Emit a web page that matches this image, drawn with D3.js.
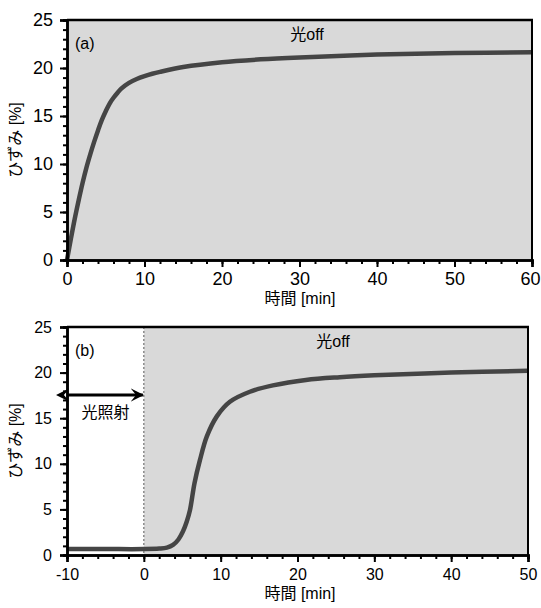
<!DOCTYPE html>
<html><head><meta charset="utf-8">
<script src="https://cdn.jsdelivr.net/npm/d3@7"></script>
<style>body{margin:0;background:#fff}text{font-family:"Liberation Sans",Arial,"Noto Sans CJK JP",sans-serif;fill:#000}</style>
</head><body><svg id="c" width="541" height="608"></svg>
<script>
const timeA = [0,0.5,1,1.5,2,2.5,3,3.5,4,4.5,5,5.5,6,6.5,7,8,9,10,11,12,15,20,25,30,40,50,60];
const strainA = [0,2.2,4.3,6.2,8.0,9.6,11.0,12.3,13.5,14.6,15.5,16.3,16.9,17.4,17.85,18.45,18.85,19.15,19.4,19.6,20.1,20.6,20.9,21.1,21.4,21.55,21.65];
const timeB = [-10,-5,0,2,3,3.8,4.5,5.1,5.6,6.0,6.6,7.3,8.2,9.5,11.2,13.8,16.8,21.1,25.5,30,40,50];
const strainB = [0.65,0.65,0.65,0.7,0.8,1.1,1.7,2.6,3.7,4.9,7.9,10.4,13.0,15.2,16.8,17.9,18.6,19.2,19.5,19.7,20.0,20.2];
const yTicks = [0,5,10,15,20,25];
const xTicksA = [0,10,20,30,40,50,60];
const xTicksB = [-10,0,10,20,30,40,50];
const offLabel = "光off";
const irrLabel = "光照射";
const xTitle = "時間 [min]";
const yTitle = "ひずみ [%]";

const svg = d3.select("#c");
const fmt = d => String(d);
const W = 541;

function panel(o){
  const g = svg.append("g");
  const x = d3.scaleLinear().domain(o.xd).range([67, o.xr]);
  const y = d3.scaleLinear().domain([0,25]).range([o.y0, o.y25]);
  g.append("rect").attr("x",x(o.grayFrom)).attr("y",y(25)).attr("width",x(o.xd[1])-x(o.grayFrom)).attr("height",y(0)-y(25)).attr("fill","#d9d9d9");
  if(o.grayFrom>o.xd[0]){
    g.append("line").attr("x1",x(o.grayFrom)).attr("x2",x(o.grayFrom)).attr("y1",y(25)).attr("y2",y(0)).attr("stroke","#333").attr("stroke-width",0.8).attr("stroke-dasharray","2,2");
  }
  const data = o.t.map((t,i)=>[t,o.s[i]]);
  g.append("path").datum(data).attr("fill","none").attr("stroke","#454545").attr("stroke-width",4.5).attr("stroke-linejoin","round")
   .attr("d", d3.line().x(d=>x(d[0])).y(d=>y(d[1])).curve(d3.curveCatmullRom.alpha(0.5)));
  g.append("line").attr("x1",x(o.xd[0])).attr("x2",x(o.xd[1])+1).attr("y1",y(25)).attr("y2",y(25)).attr("stroke","#000").attr("stroke-width",2.5);
  g.append("line").attr("x1",x(o.xd[1])).attr("x2",x(o.xd[1])).attr("y1",y(25)).attr("y2",y(0)).attr("stroke","#000").attr("stroke-width",2);
  const yMinor = d3.range(0,25.01,1);
  const ya = g.append("g").attr("transform",`translate(${x(o.xd[0])},0)`);
  ya.call(d3.axisLeft(y).tickValues(yMinor).tickSize(4).tickFormat(""));
  ya.append("g").call(d3.axisLeft(y).tickValues(yTicks).tickSize(7).tickPadding(o.yPad).tickFormat(fmt));
  ya.selectAll("path").attr("stroke","#000").attr("stroke-width",2.5);
  ya.selectAll("line").attr("stroke","#000").attr("stroke-width",2);
  ya.selectAll("text").attr("font-size",o.fs).attr("fill","#000").attr("font-family","Liberation Sans, Arial, sans-serif");
  const xMinor = d3.range(o.xd[0],o.xd[1]+0.01,2);
  const xa = g.append("g").attr("transform",`translate(0,${y(0)})`);
  xa.call(d3.axisBottom(x).tickValues(xMinor).tickSize(4).tickFormat(""));
  xa.append("g").call(d3.axisBottom(x).tickValues(o.xt).tickSize(7).tickPadding(o.xPad).tickFormat(fmt));
  xa.selectAll("path").attr("stroke","#000").attr("stroke-width",2.5);
  xa.selectAll("line").attr("stroke","#000").attr("stroke-width",2);
  xa.selectAll("text").attr("font-size",o.fs).attr("fill","#000").attr("font-family","Liberation Sans, Arial, sans-serif");
  // keep the last tick label inside the window
  xa.selectAll(".tick text").each(function(){
    const b = this.getBBox(); const px = x(+d3.select(this.parentNode).datum());
    const right = px + b.x + b.width;
    if(right > W - 1) d3.select(this).attr("dx", (W - 1 - right) + "px");
  });
  g.append("text").attr("x",75).attr("y",y(25)+29).attr("font-size",16).text(o.tag);
  g.append("text").attr("x",o.offX).attr("y",y(25)+20).attr("font-size",16).attr("text-anchor","middle").text(offLabel);
  g.append("text").attr("x",300).attr("y",y(0)+44).attr("font-size",16).attr("text-anchor","middle").text(xTitle);
  g.append("text").attr("transform",`translate(21,${(y(0)+y(25))/2}) rotate(-90)`).attr("font-size",16).attr("text-anchor","middle").text(yTitle);
  return {g,x,y};
}

const A = panel({xd:[0,60], xr:532, y0:260, y25:20, t:timeA, s:strainA, xt:xTicksA, grayFrom:0, tag:"(a)", offX:307, fs:18, xPad:5, yPad:7});
const B = panel({xd:[-10,50], xr:528, y0:555, y25:327, t:timeB, s:strainB, xt:xTicksB, grayFrom:0, tag:"(b)", offX:333, fs:16, xPad:7, yPad:8});

const defs = svg.append("defs");
["s","e"].forEach(k=>{
  defs.append("marker").attr("id","m"+k).attr("viewBox","0 0 10 10").attr("refX",k==="e"?9:1).attr("refY",5)
   .attr("markerWidth",4.5).attr("markerHeight",4.5).attr("orient","auto-start-reverse")
   .append("path").attr("d","M0,0 L10,5 L0,10 L4,5 Z").attr("fill","#000");
});
const ay = 395;
B.g.append("line").attr("x1",B.x(-10)+1).attr("x2",B.x(0)-1).attr("y1",ay).attr("y2",ay)
  .attr("stroke","#000").attr("stroke-width",3).attr("marker-start","url(#ms)").attr("marker-end","url(#me)");
B.g.append("text").attr("x",(B.x(-10)+B.x(0))/2).attr("y",418).attr("font-size",16).attr("text-anchor","middle").text(irrLabel);
</script></body></html>
